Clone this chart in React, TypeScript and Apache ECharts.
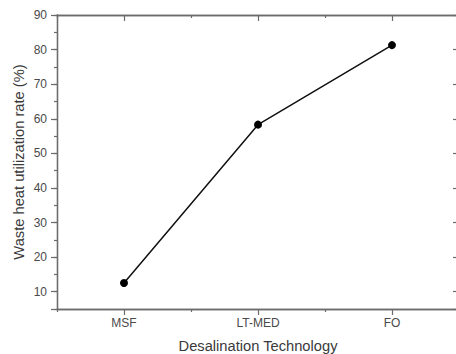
import React, { useEffect, useRef } from "react";
import * as echarts from "echarts";

const categories = ["MSF", "LT-MED", "FO"];
const utilization = [12.5, 58.3, 81.3];
const xTitle = "Desalination Technology";
const yTitle = "Waste heat utilization rate (%)";

const AXIS = "#6b6b6b";
const TXT = "#4a4a4a";
const FONT = "Liberation Sans, Arial, sans-serif";

export default function App() {
  const ref = useRef<HTMLDivElement>(null);
  useEffect(() => {
    if (!ref.current) return;
    const chart = echarts.init(ref.current, null, { renderer: "svg" });
    const line = { show: true, lineStyle: { color: AXIS, width: 1.3 } };
    const xBase = (position: string, major: boolean, inside: boolean) => ({
      type: "category",
      data: categories,
      position,
      boundaryGap: true,
      axisLine: line,
      axisTick: {
        show: true,
        alignWithLabel: major,
        inside,
        length: major ? 6 : 3,
        lineStyle: { color: AXIS, width: 1.2 },
      },
      axisLabel: { show: false },
      splitLine: { show: false },
    });
    const yMinor = (position: string, inside: boolean) => ({
      type: "value",
      position,
      min: 5,
      max: 90,
      interval: 5,
      axisLine: line,
      axisTick: { show: true, inside, length: 3, lineStyle: { color: AXIS, width: 1.2 } },
      axisLabel: { show: false },
      splitLine: { show: false },
    });
    const yMajor = (position: string, inside: boolean, labels: boolean) => ({
      type: "value",
      position,
      min: -90,
      max: -5,
      interval: 10,
      inverse: true,
      axisLine: line,
      axisTick: { show: true, inside, length: 6, lineStyle: { color: AXIS, width: 1.2 } },
      axisLabel: {
        show: labels,
        margin: 10,
        fontSize: 12,
        fontFamily: FONT,
        color: TXT,
        formatter: (v: number) => (Math.round(v) % 10 === 0 ? String(-v) : ""),
      },
      splitLine: { show: false },
    });

    const bottomMain: any = xBase("bottom", true, false);
    bottomMain.axisLabel = { show: true, margin: 8, fontSize: 12, fontFamily: FONT, color: TXT };
    bottomMain.name = xTitle;
    bottomMain.nameLocation = "middle";
    bottomMain.nameGap = 29;
    bottomMain.nameMoveOverlap = false;
    bottomMain.nameTextStyle = { fontSize: 14.7, fontFamily: FONT, color: "#3a3a3a" };

    const leftMinor: any = yMinor("left", false);
    leftMinor.name = yTitle;
    leftMinor.nameLocation = "middle";
    leftMinor.nameRotate = 90;
    leftMinor.nameGap = 31;
    leftMinor.nameMoveOverlap = false;
    leftMinor.nameTextStyle = { fontSize: 14.7, fontFamily: FONT, color: "#3a3a3a" };

    chart.setOption({
      animation: false,
      backgroundColor: "#ffffff",
      grid: { left: 57, top: 15, right: -3, bottom: 45, containLabel: false, outerBoundsMode: "none" },
      xAxis: [
        bottomMain,
        xBase("bottom", false, false),
        xBase("top", true, true),
        xBase("top", false, true),
      ],
      yAxis: [
        leftMinor,
        yMajor("left", false, true),
        yMinor("right", true),
        yMajor("right", true, false),
      ],
      series: [
        {
          type: "line",
          xAxisIndex: 0,
          yAxisIndex: 0,
          data: utilization,
          symbol: "circle",
          symbolSize: 8,
          lineStyle: { color: "#111", width: 1.5 },
          itemStyle: { color: "#000" },
        },
      ],
    });
    return () => chart.dispose();
  }, []);
  return <div ref={ref} style={{ width: 456, height: 354, position: "fixed", left: 0, top: 0 }} />;
}
